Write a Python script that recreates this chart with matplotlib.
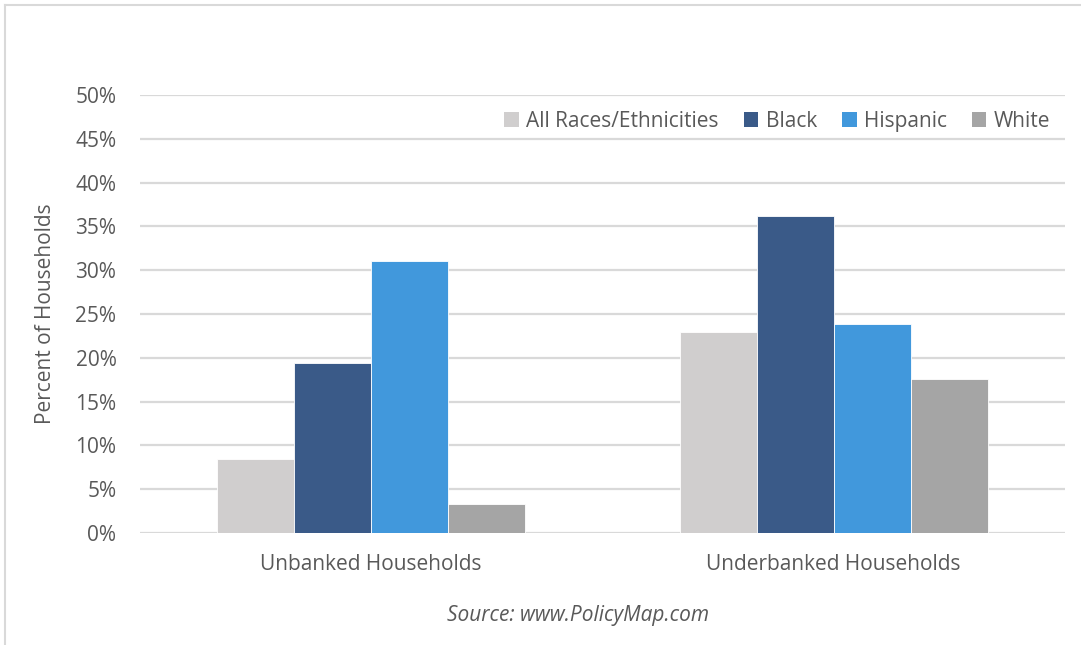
import numpy as np
import matplotlib.pyplot as plt
from matplotlib.patches import Patch
from matplotlib.lines import Line2D

# 数据
categories = ['Unbanked Households', 'Underbanked Households']
groups = ['All Races/Ethnicities', 'Black', 'Hispanic', 'White']
all_races = [8.5, 22.9]
black = [19.4, 36.2]
hispanic = [31.1, 23.9]
white = [3.3, 17.6]
yticks = [0, 5, 10, 15, 20, 25, 30, 35, 40, 45, 50]

colors = ['#D0CECE', '#3A5A88', '#4198DC', '#A5A5A5']
text_color = '#595959'
plt.rcParams['font.family'] = ['Open Sans', 'DejaVu Sans']

fig = plt.figure(figsize=(10.81, 6.45), dpi=100)
ax = fig.add_axes([0.1295, 0.1736, 0.8557, 0.6791])

x = np.arange(len(categories))
width = 0.1665
series = [all_races, black, hispanic, white]
for i, vals in enumerate(series):
    ax.bar(x + (i - 1.5) * width, vals, width, color=colors[i],
           edgecolor='#FFFFFF', linewidth=0.6, label=groups[i], zorder=3)

ax.set_xlim(-0.5, 1.5)
ax.set_ylim(0, 50)
ax.set_yticks(yticks)
ax.set_yticklabels([f'{t}%' for t in yticks])
ax.set_xticks(x)
ax.set_xticklabels(categories)
ax.yaxis.grid(True, color='#D9D9D9', linewidth=1.6, zorder=0)
for s in ax.spines.values():
    s.set_visible(False)
ax.tick_params(axis='both', length=0, labelsize=15, colors=text_color)
ax.tick_params(axis='y', pad=17)
ax.tick_params(axis='x', pad=15)
ax.set_ylabel('Percent of Households', fontsize=15, color=text_color, labelpad=14)

handles = [Patch(facecolor=c, edgecolor='none') for c in colors]
ax.legend(handles, groups, loc='center right', bbox_to_anchor=(0.993, 0.94),
          ncol=4, frameon=False, fontsize=15, labelcolor=text_color,
          handlelength=0.7, handleheight=0.7, handletextpad=0.35,
          columnspacing=1.2, borderaxespad=0)

fig.text(0.535, 0.046, 'Source: www.PolicyMap.com', ha='center', va='center',
         fontsize=15, style='italic', color=text_color)

# 外框（上、左）
fig.add_artist(Line2D([0.005, 1.0], [0.992, 0.992], color='#D9D9D9', linewidth=1.5))
fig.add_artist(Line2D([0.005, 0.005], [0.0, 0.992], color='#D9D9D9', linewidth=1.5))

fig.savefig('out.png', dpi=100)
